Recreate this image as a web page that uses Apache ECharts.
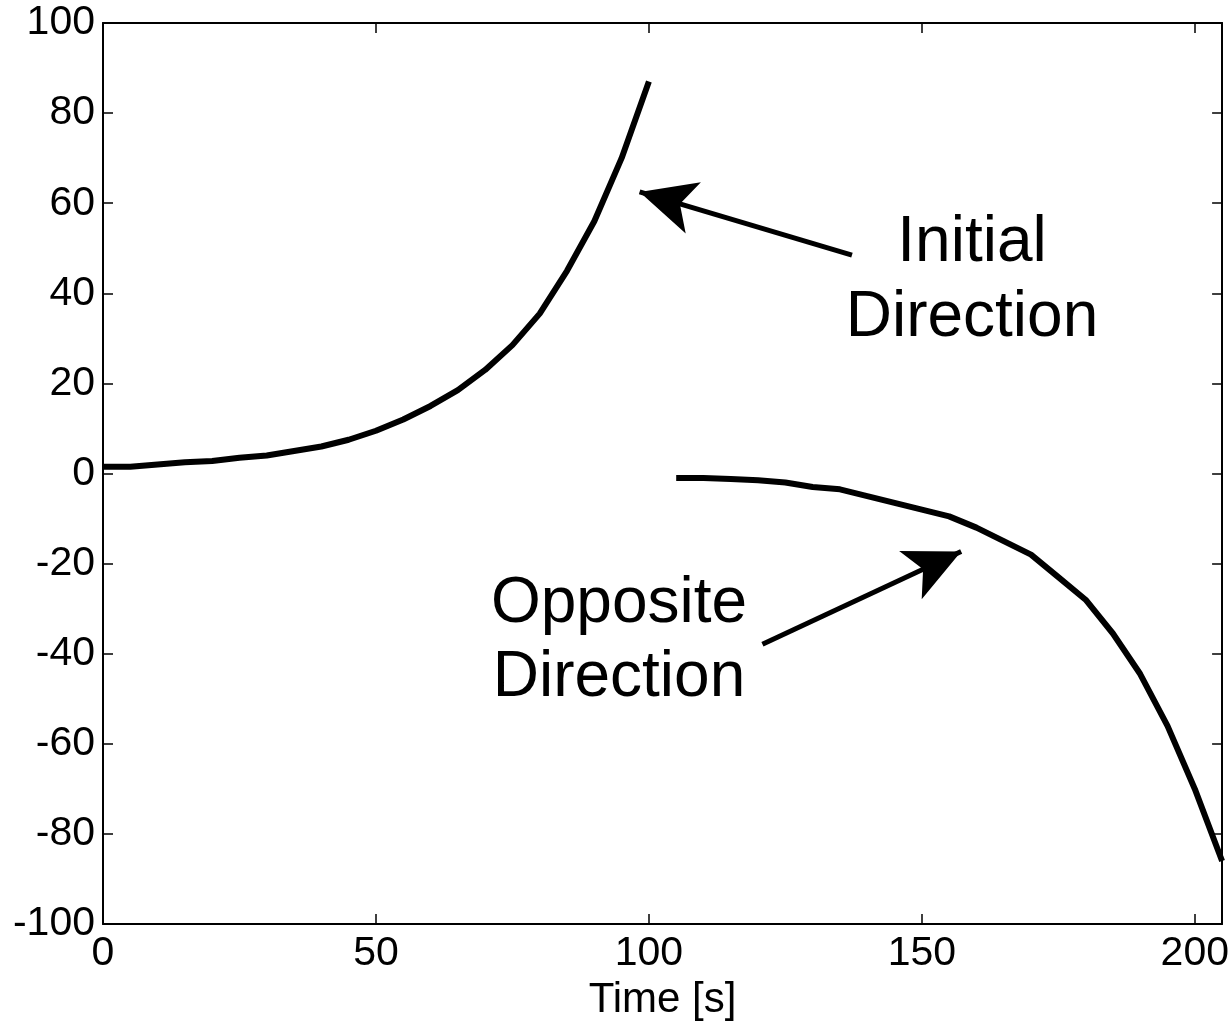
<!DOCTYPE html>
<html><head><meta charset="utf-8">
<script src="https://cdn.jsdelivr.net/npm/echarts@6/dist/echarts.min.js"></script>
<style>html,body{margin:0;padding:0;background:#fff}#c{width:1232px;height:1026px}</style>
</head><body><div id="c"></div>
<script>
const xInitial = [0,5,10,15,20,25,30,35,40,45,50,55,60,65,70,75,80,85,90,95,100];
const yInitial = [1.5,1.5,2,2.5,2.8,3.5,4,5,6,7.5,9.5,12,15,18.5,23,28.5,35.5,45,56,70,87];
const xOpposite = [105,110,115,120,125,130,135,140,145,150,155,160,165,170,175,180,185,190,195,200,205];
const yOpposite = [-1,-1,-1.2,-1.5,-2,-3,-3.5,-5,-6.5,-8,-9.5,-12,-15,-18,-23,-28,-35.5,-44.5,-56,-70,-86];
const xTicks = [0,50,100,150,200];
const yTicks = [-100,-80,-60,-40,-20,0,20,40,60,80,100];
const arrowInitial = [[137.2,48.5],[98.3,62.5]];
const arrowOpposite = [[120.8,-37.9],[157.2,-17.3]];
const labelInitial = ['Initial','Direction'];
const labelOpposite = ['Opposite','Direction'];

const FONT = 'Liberation Sans, Arial, sans-serif';
const chart = echarts.init(document.getElementById('c'));
const axisCommon = {
  type:'value',
  axisLine:{show:true,onZero:false,lineStyle:{color:'#000',width:2}},
  axisTick:{show:true,inside:true,length:10,lineStyle:{color:'#000',width:1.5}},
  splitLine:{show:false}
};
chart.setOption({
  animation:false,
  backgroundColor:'#fff',
  grid:{left:103,right:6,top:23,bottom:100,containLabel:false},
  xAxis:[
    Object.assign({},axisCommon,{min:0,max:205,interval:50,position:'bottom',
      name:'Time [s]',nameLocation:'middle',nameGap:54,
      nameTextStyle:{color:'#000',fontSize:42,fontFamily:FONT},
      axisLabel:{color:'#000',fontSize:41,fontFamily:FONT,margin:9,showMaxLabel:false,
        formatter:v=>xTicks.includes(v)?String(v):''}}),
    Object.assign({},axisCommon,{min:0,max:205,interval:50,position:'top',axisLabel:{show:false}})
  ],
  yAxis:[
    Object.assign({},axisCommon,{min:-100,max:100,interval:20,position:'left',
      axisLabel:{color:'#000',fontSize:41,fontFamily:FONT,margin:8,
        formatter:v=>yTicks.includes(v)?String(v):''}}),
    Object.assign({},axisCommon,{min:-100,max:100,interval:20,position:'right',axisLabel:{show:false}})
  ],
  series:[
    {type:'line',data:xInitial.map((x,i)=>[x,yInitial[i]]),showSymbol:false,
      lineStyle:{color:'#000',width:6},
      markLine:{silent:true,symbol:['none','arrow'],symbolSize:[40,56],
        lineStyle:{color:'#000',width:5,type:'solid'},label:{show:false},
        data:[[{coord:arrowInitial[0]},{coord:arrowInitial[1]}]]}},
    {type:'line',data:xOpposite.map((x,i)=>[x,yOpposite[i]]),showSymbol:false,
      lineStyle:{color:'#000',width:6},
      markLine:{silent:true,symbol:['none','arrow'],symbolSize:[40,56],
        lineStyle:{color:'#000',width:5,type:'solid'},label:{show:false},
        data:[[{coord:arrowOpposite[0]},{coord:arrowOpposite[1]}]]}}
  ],
  graphic:[
    {type:'text',x:972,y:243,style:{text:labelInitial[0],font:'64px '+FONT,fill:'#000',align:'center',verticalAlign:'middle'}},
    {type:'text',x:972,y:318,style:{text:labelInitial[1],font:'64px '+FONT,fill:'#000',align:'center',verticalAlign:'middle'}},
    {type:'text',x:619,y:604,style:{text:labelOpposite[0],font:'64px '+FONT,fill:'#000',align:'center',verticalAlign:'middle'}},
    {type:'text',x:619,y:678,style:{text:labelOpposite[1],font:'64px '+FONT,fill:'#000',align:'center',verticalAlign:'middle'}}
  ]
});
</script></body></html>
